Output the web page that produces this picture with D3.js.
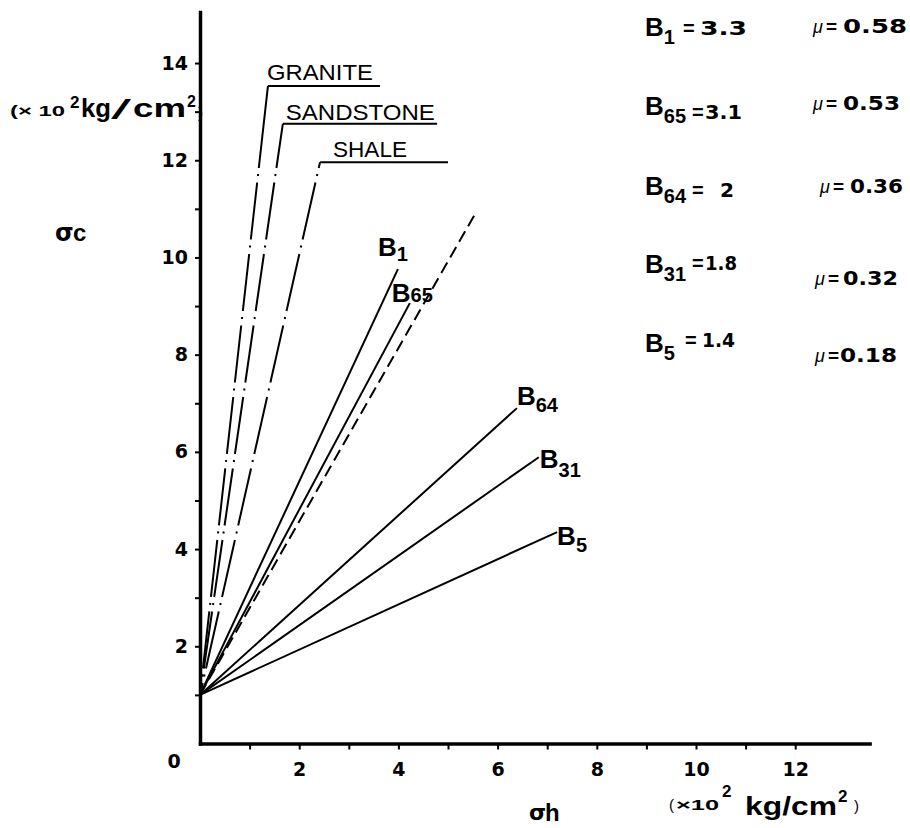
<!DOCTYPE html>
<html>
<head>
<meta charset="utf-8">
<script src="https://cdn.jsdelivr.net/npm/d3@7"></script>
<style>
  body { margin: 0; background: #fff; }
  svg { display: block; }
</style>
</head>
<body>
<svg id="chart" width="910" height="828"></svg>
<script>
// Specimen failure lines: sigma_c against sigma_h (x10^2 kg/cm^2), all from the point (0, 1)
const specimens = ["1", "65", "64", "31", "5"];
const specimenEndH = [3.99, 4.23, 6.39, 6.83, 7.2];
const specimenEndC = [9.76, 9.06, 6.90, 5.89, 4.35];
const bValues = ["3.3", "3.1", "2", "1.8", "1.4"];
const muValues = ["0.58", "0.53", "0.36", "0.32", "0.18"];
const startPoint = [0, 1];

// Dashed reference line
const dashedEnd = [5.56, 10.92];

// Rock-type envelopes (dash-dot), with a horizontal leader carrying the name
const rocks = ["GRANITE", "SANDSTONE", "SHALE"];
const rockBendH = [1.37, 1.67, 2.42];
const rockBendC = [13.53, 12.75, 11.96];
const rockLeaderEndH = [3.63, 4.78, 5.0];

// Axis ticks
const xTickValues = [1, 2, 3, 4, 5, 6, 7, 8, 9, 10, 11, 12];
const xTickLabels = [2, 4, 6, 8, 10, 12];
const yTickValues = [1, 2, 3, 4, 5, 6, 7, 8, 9, 10, 11, 12, 13, 14];
const yTickLabels = [2, 4, 6, 8, 10, 12, 14];

const FONT = "'Liberation Sans', Arial, Helvetica, sans-serif";
const NUMFONT = "'DejaVu Sans', 'Liberation Sans', sans-serif";
const svg = d3.select("#chart");

const x = d3.scaleLinear().domain([0, 13.5]).range([200, 869.6]);
const y = d3.scaleLinear().domain([0, 15.05]).range([743.5, 12]);

// ---- axes ----
const yAxis = svg.append("g")
  .attr("transform", `translate(${x(0)},0)`)
  .call(d3.axisLeft(y).tickValues(yTickValues).tickSize(5).tickSizeOuter(0).tickPadding(7)
    .tickFormat(d => yTickLabels.includes(d) ? d : ""));
const xAxis = svg.append("g")
  .attr("transform", `translate(0,${y(0)})`)
  .call(d3.axisBottom(x).tickValues(xTickValues).tickSize(6).tickSizeOuter(0).tickPadding(13)
    .tickFormat(d => xTickLabels.includes(d) ? d : ""));

[yAxis, xAxis].forEach(g => {
  g.attr("font-family", NUMFONT).attr("font-size", 19).attr("font-weight", "bold");
  g.select(".domain").attr("stroke", "#000").attr("stroke-width", 3.5).attr("stroke-linecap", "square");
  g.selectAll(".tick line").attr("stroke", "#000").attr("stroke-width", 2);
  g.selectAll(".tick text")
    .attr("fill", "#000")
    .style("font-family", NUMFONT)
    .style("font-size", "19px")
    .style("font-weight", "bold");
});

// origin label
svg.append("text")
  .attr("x", x(0) - 26).attr("y", y(0) + 24)
  .attr("text-anchor", "middle")
  .style("font-family", NUMFONT).style("font-size", "19px").style("font-weight", "bold")
  .text("0");

const line = d3.line().x(d => x(d[0])).y(d => y(d[1]));

// ---- rock envelopes ----
rocks.forEach((name, i) => {
  const bend = [rockBendH[i], rockBendC[i]];
  const bx = x(bend[0]), by = y(bend[1]);
  const ox = x(startPoint[0]), oy = y(startPoint[1]);
  const len = Math.hypot(bx - ox, by - oy);
  const f = len / (oy - by);           // path length per vertical pixel
  // dots fall on common heights; first dash runs from the bend to the first dot
  const firstDot = 176 - by;
  const arr = [(firstDot - 8) * f, 6 * f, 2 * f, 6.5 * f];
  let total = arr.reduce((a, b) => a + b, 0);
  while (total < len + 80) {
    const seg = [57 * f, 6 * f, 2 * f, 6.5 * f];
    arr.push(...seg);
    total += seg.reduce((a, b) => a + b, 0);
  }
  svg.append("path")
    .attr("d", line([bend, startPoint]))
    .attr("fill", "none").attr("stroke", "#000").attr("stroke-width", 2)
    .attr("stroke-dasharray", arr.map(v => v.toFixed(2)).join(","));
  svg.append("path")
    .attr("d", line([bend, [rockLeaderEndH[i], rockBendC[i]]]))
    .attr("fill", "none").attr("stroke", "#000").attr("stroke-width", 2);
});

const rockLabelDx = [-1, 3, 13];
const rockLabelDy = [-6, -4, -5];
const rockLabelW = [106, 149, 74];
rocks.forEach((name, i) => {
  svg.append("text")
    .attr("x", x(rockBendH[i]) + rockLabelDx[i])
    .attr("y", y(rockBendC[i]) + rockLabelDy[i])
    .attr("textLength", rockLabelW[i]).attr("lengthAdjust", "spacingAndGlyphs")
    .style("font-family", FONT).style("font-size", "22px")
    .text(name);
});

// ---- dashed reference line ----
svg.append("path")
  .attr("d", line([startPoint, dashedEnd]))
  .attr("fill", "none").attr("stroke", "#000").attr("stroke-width", 2)
  .attr("stroke-dasharray", "12,6");

// ---- specimen lines ----
specimens.forEach((s, i) => {
  svg.append("path")
    .attr("d", line([startPoint, [specimenEndH[i], specimenEndC[i]]]))
    .attr("fill", "none").attr("stroke", "#000").attr("stroke-width", 2);
});

// labels at the line ends
const endLabelDx = [-20, -18, 0, 1, 0];
const endLabelDy = [-13, -1, -3, 11, 13];
const endSubDy = [5, 0, 7, 9, 7];
specimens.forEach((s, i) => {
  const t = svg.append("text")
    .attr("x", x(specimenEndH[i]) + endLabelDx[i])
    .attr("y", y(specimenEndC[i]) + endLabelDy[i])
    .style("font-family", FONT).style("font-weight", "bold");
  t.append("tspan").style("font-size", "26px").text("B");
  t.append("tspan").style("font-size", "20px").attr("dy", endSubDy[i]).text(s);
});

// ---- B and mu table ----
const rowB = [36, 115, 195, 273, 352];
const rowEq = [35, 119, 197, 270, 347];
const rowMu = [33, 110, 193, 285, 362];
const muX = [813, 813, 820, 815, 815];
const eqX = [683, 692, 692, 692, 685];
const valX = [700, 705, 720, 705, 702];
const valW = [47, 37, 14, 32, 33];
const muValX = [843, 843, 850, 843, 840];
const muW = [64, 57, 53, 55, 57];
specimens.forEach((s, i) => {
  const t = svg.append("text")
    .attr("x", 645).attr("y", rowB[i])
    .style("font-family", FONT).style("font-weight", "bold");
  t.append("tspan").style("font-size", "26px").text("B");
  t.append("tspan").style("font-size", "20px").attr("dy", 8).text(s);

  svg.append("text").attr("x", eqX[i]).attr("y", rowEq[i])
    .style("font-family", FONT).style("font-size", "20px").style("font-weight", "bold")
    .text("=");
  svg.append("text").attr("x", valX[i]).attr("y", rowEq[i])
    .attr("textLength", valW[i]).attr("lengthAdjust", "spacingAndGlyphs")
    .style("font-family", NUMFONT).style("font-size", "20px").style("font-weight", "bold")
    .text(bValues[i]);

  svg.append("text").attr("x", muX[i]).attr("y", rowMu[i])
    .style("font-family", FONT).style("font-size", "18px").style("font-style", "italic")
    .text("μ");
  svg.append("text").attr("x", muX[i] + 13).attr("y", rowMu[i])
    .style("font-family", FONT).style("font-size", "19px").style("font-weight", "bold")
    .text("=");
  svg.append("text").attr("x", muValX[i]).attr("y", rowMu[i])
    .attr("textLength", muW[i]).attr("lengthAdjust", "spacingAndGlyphs")
    .style("font-family", NUMFONT).style("font-size", "20px").style("font-weight", "bold")
    .text(muValues[i]);
});

// ---- axis titles ----
function piece(px, py, str, size, opts = {}) {
  const t = svg.append("text").attr("x", px).attr("y", py)
    .style("font-family", opts.family || FONT)
    .style("font-size", size + "px")
    .style("font-weight", opts.weight || "bold")
    .text(str);
  if (opts.w) t.attr("textLength", opts.w).attr("lengthAdjust", "spacingAndGlyphs");
  return t;
}
// vertical axis unit
piece(10, 116, "(× 10", 14, { w: 55 });
piece(70, 108, "2", 17);
piece(81, 117, "kg", 26, { w: 30 });
piece(111, 119, "/", 28, { weight: "normal", w: 20 });
piece(133, 117, "cm", 26, { w: 53 });
piece(187, 107, "2", 16);
piece(198, 118, ")", 15, { weight: "normal" });
// vertical axis symbol
piece(55, 241, "σ", 24, { family: "'DejaVu Sans', sans-serif" });
piece(73, 241, "c", 24);

// horizontal axis unit
piece(669, 810, "(", 15, { weight: "normal" });
piece(676, 810, "×10", 15, { w: 43 });
piece(722, 797, "2", 17);
piece(745, 815, "kg/cm", 26, { w: 92 });
piece(838, 802, "2", 17);
piece(854, 811, ")", 15, { weight: "normal" });
// horizontal axis symbol
piece(529, 820, "σ", 22, { family: "'DejaVu Sans', sans-serif" });
piece(545, 821, "h", 24);
</script>
</body>
</html>
